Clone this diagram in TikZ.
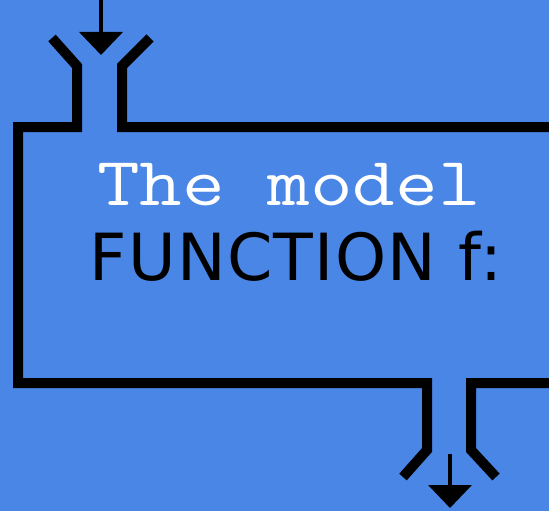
\documentclass[tikz,border=0pt]{standalone}
\usepackage{fontspec}
\newfontfamily\labelfont[LetterSpace=2]{DejaVu Sans}
\usetikzlibrary{arrows.meta}
\definecolor{modelblue}{RGB}{74,134,230}
\tikzset{
  wall/.style={line width=10pt, line join=miter, black},
  flow/.style={line width=4pt, -{Triangle[width=43pt,length=23pt]}},
}
\begin{document}
\begin{tikzpicture}[x=1pt,y=1pt]
  \fill[modelblue] (0,0) rectangle (549,-511);
  \useasboundingbox (0,0) rectangle (549,-511);
  \clip (0,0) rectangle (549,-511);
  % the box, with its funnel in and funnel out
  \draw[wall] (52,-38) -- (77,-66) -- (77,-127) -- (18,-127) -- (18,-383)
    -- (427,-383) -- (427,-450) -- (403,-477);
  \draw[wall] (150,-38) -- (122,-66) -- (122,-127) -- (556,-127) -- (556,-383)
    -- (471,-383) -- (471,-450) -- (496,-477);
  % labels
  \node[anchor=base, white, font=\ttfamily\fontsize{69}{69}\selectfont] (model) at (289,-205) {\scalebox{1.2}[1]{The model}};
  \node[anchor=base, font=\labelfont\fontsize{65}{65}\selectfont] (func) at (296,-280) {FUNCTION f:};
  % in and out
  \coordinate (in) at (101,4);
  \coordinate (inlet) at (101,-55);
  \coordinate (outlet) at (450,-454);
  \coordinate (out) at (450,-508);
  \draw[flow] (in) -- (inlet);
  \draw[flow] (outlet) -- (out);
\end{tikzpicture}
\end{document}
